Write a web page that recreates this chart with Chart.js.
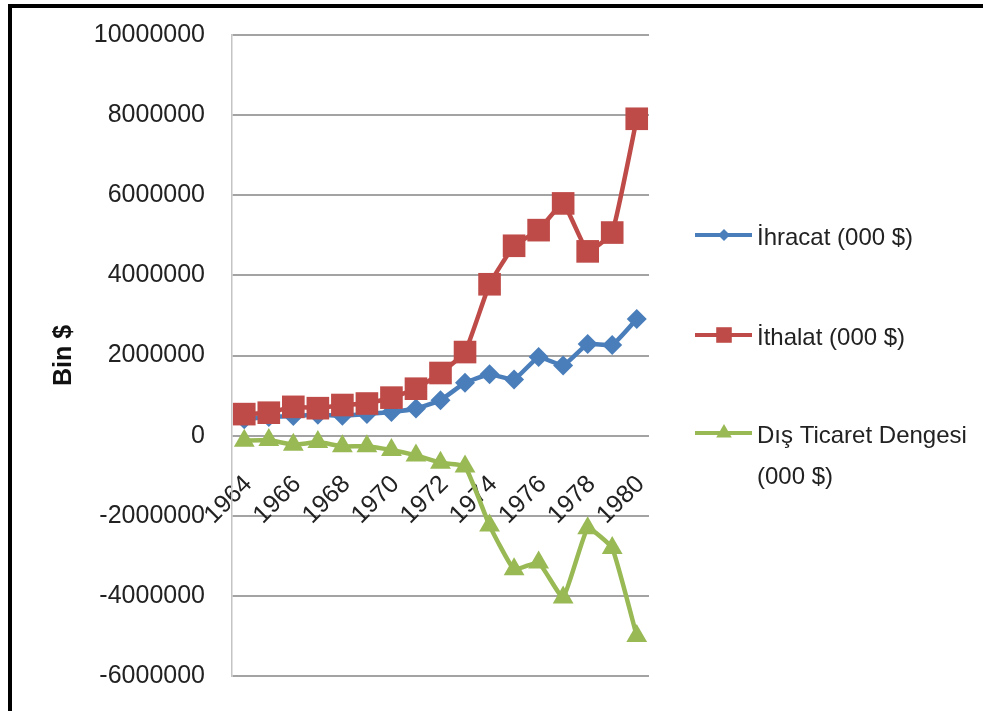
<!DOCTYPE html>
<html>
<head>
<meta charset="utf-8">
<script src="https://cdn.jsdelivr.net/npm/chart.js@4.4.1/dist/chart.umd.min.js"></script>
<style>
  html, body { margin: 0; padding: 0; background: #ffffff; }
  #wrap { position: relative; width: 983px; height: 711px; }
  canvas { display: block; }
</style>
</head>
<body>
<div id="wrap"><canvas id="c" width="983" height="711"></canvas></div>
<script>
// ---- data (thousand $) ----
const years = ['1964','1965','1966','1967','1968','1969','1970','1971','1972','1973','1974','1975','1976','1977','1978','1979','1980'];
const ihracat = [411000, 464000, 490000, 523000, 496000, 537000, 588000, 677000, 885000, 1317000, 1532000, 1401000, 1960000, 1753000, 2288000, 2261000, 2910000];
const ithalat = [537000, 572000, 718000, 685000, 764000, 801000, 948000, 1171000, 1563000, 2086000, 3778000, 4739000, 5129000, 5796000, 4599000, 5069000, 7909000];
const denge = [-126000, -108000, -228000, -162000, -268000, -264000, -360000, -494000, -678000, -769000, -2246000, -3338000, -3169000, -4043000, -2311000, -2808000, -4999000];
const seriesLabels = [['İhracat (000 $)'], ['İthalat (000 $)'], ['Dış Ticaret Dengesi', '(000 $)']];
const yMin = -6000000, yMax = 10000000, yStep = 2000000;
const yTitle = 'Bin $';

const BLUE = '#4A7EBB', RED = '#BE4B48', GREEN = '#98B954';
const FONT = "'Liberation Sans', Arial, sans-serif";
const styles = [
  { color: BLUE, pointStyle: 'rectRot', radius: 10, legendR: 6 },
  { color: RED, pointStyle: 'rect', radius: 16, legendR: 11 },
  { color: GREEN, pointStyle: 'triangle', radius: 12, legendR: 9 }
];

function drawMarker(ctx, style, x, y, r) {
  ctx.beginPath();
  if (style === 'rectRot') {
    ctx.moveTo(x, y - r); ctx.lineTo(x + r, y); ctx.lineTo(x, y + r); ctx.lineTo(x - r, y);
  } else if (style === 'rect') {
    const s = Math.SQRT1_2 * r;
    ctx.rect(x - s, y - s, 2 * s, 2 * s);
  } else {
    ctx.moveTo(x, y - r);
    ctx.lineTo(x + r * Math.sin(Math.PI / 3), y + r * 0.5);
    ctx.lineTo(x - r * Math.sin(Math.PI / 3), y + r * 0.5);
  }
  ctx.closePath();
  ctx.fill();
}

const legendPlugin = {
  id: 'sideLegend',
  afterDraw(chart) {
    const ctx = chart.ctx;
    ctx.save();
    const rows = [235, 335, 433];
    chart.data.datasets.forEach((ds, i) => {
      const st = styles[i];
      const y = rows[i];
      ctx.strokeStyle = st.color;
      ctx.lineWidth = 4;
      ctx.beginPath(); ctx.moveTo(695, y); ctx.lineTo(752, y); ctx.stroke();
      ctx.fillStyle = st.color;
      drawMarker(ctx, st.pointStyle, 724, y, st.legendR);
      ctx.fillStyle = '#222222';
      ctx.font = '24px ' + FONT;
      ctx.textBaseline = 'middle';
      ctx.textAlign = 'left';
      seriesLabels[i].forEach((t, k) => ctx.fillText(t, 757, y + 3 + k * 41));
    });
    // frame
    ctx.fillStyle = '#000000';
    ctx.fillRect(8, 4, 975, 4);
    ctx.fillRect(8, 4, 4, 707);
    ctx.restore();
  }
};

const bgPlugin = {
  id: 'bg',
  beforeDraw(chart) {
    const ctx = chart.ctx;
    ctx.save(); ctx.fillStyle = '#ffffff'; ctx.fillRect(0, 0, chart.width, chart.height); ctx.restore();
  }
};

const mk = (label, data, i, order) => ({
  label, data, order,
  borderColor: styles[i].color,
  backgroundColor: styles[i].color,
  borderWidth: 4.5,
  pointStyle: styles[i].pointStyle,
  pointRadius: styles[i].radius,
  pointHoverRadius: styles[i].radius,
  pointBorderWidth: 0,
  pointBackgroundColor: styles[i].color,
  tension: 0.12,
  fill: false
});

new Chart(document.getElementById('c'), {
  type: 'line',
  data: {
    labels: years,
    datasets: [
      mk(seriesLabels[0].join(' '), ihracat, 0, 3),
      mk(seriesLabels[1].join(' '), ithalat, 1, 2),
      mk(seriesLabels[2].join(' '), denge, 2, 1)
    ]
  },
  options: {
    responsive: false,
    animation: false,
    devicePixelRatio: 1,
    layout: { padding: { left: 45, right: 334, top: 0, bottom: 0 } },
    plugins: { legend: { display: false }, tooltip: { enabled: false } },
    scales: {
      x: {
        type: 'category',
        offset: true,
        position: { y: 0 },
        afterFit: (s) => { s.height = 0; },
        grid: { display: false, drawTicks: false },
        border: { display: false },
        ticks: {
          autoSkip: false,
          maxRotation: 45, minRotation: 45,
          padding: 34,
          labelOffset: 4,
          color: '#222222',
          font: { family: FONT, size: 25 },
          callback: function (v, i) { return i % 2 === 0 ? this.getLabelForValue(v) : ''; }
        }
      },
      y: {
        min: yMin, max: yMax,
        afterFit: (s) => { s.width = 187; s.paddingTop = 35; s.paddingBottom = 35; },
        grid: { color: '#a3a3a3', lineWidth: 2, drawTicks: false },
        border: { display: true, color: '#c4c4c4', width: 1.5 },
        ticks: {
          stepSize: yStep,
          padding: 27,
          color: '#222222',
          font: { family: FONT, size: 25 },
          callback: (v) => String(v)
        },
        title: {
          display: true, text: yTitle, color: '#111111',
          font: { family: FONT, size: 25, weight: 'bold' },
          padding: { top: 4, bottom: 4 }
        }
      }
    }
  },
  plugins: [bgPlugin, legendPlugin]
});
</script>
</body>
</html>
